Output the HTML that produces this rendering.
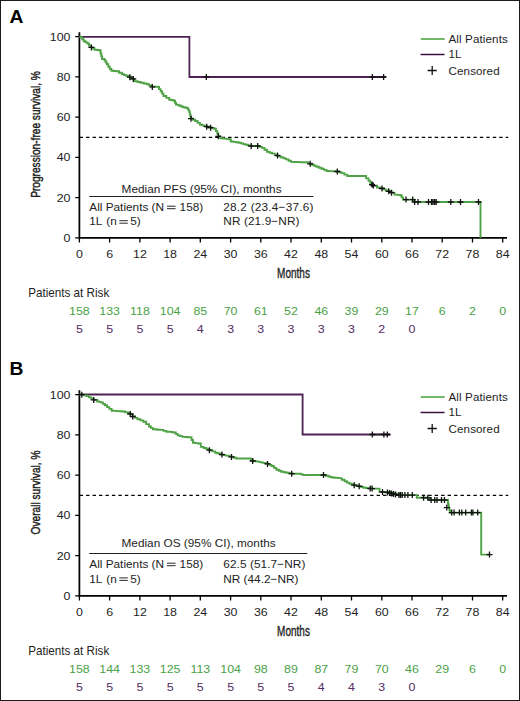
<!DOCTYPE html>
<html><head><meta charset="utf-8"><style>
html,body{margin:0;padding:0;background:#fff;}
body{width:520px;height:701px;overflow:hidden;}
svg{display:block;font-family:"Liberation Sans", sans-serif;}
</style></head><body>
<svg width="520" height="701" viewBox="0 0 520 701">
<rect x="0" y="0" width="520" height="701" fill="#fff"/>
<text x="0" y="0" font-size="18.2" font-weight="bold" fill="#000" transform="translate(9.6 22.5) scale(1.06 1)">A</text>
<path d="M79.4,32.2 V238.6 M78.6,237.8 H507" stroke="#000" stroke-width="1.75" fill="none"/>
<path d="M75.2,237.8 H79.4 M75.2,197.6 H79.4 M75.2,157.4 H79.4 M75.2,117.1 H79.4 M75.2,76.9 H79.4 M75.2,36.7 H79.4 M79.4,237.8 V242.4 M109.6,237.8 V242.4 M139.9,237.8 V242.4 M170.1,237.8 V242.4 M200.3,237.8 V242.4 M230.6,237.8 V242.4 M260.8,237.8 V242.4 M291.0,237.8 V242.4 M321.3,237.8 V242.4 M351.5,237.8 V242.4 M381.8,237.8 V242.4 M412.0,237.8 V242.4 M442.2,237.8 V242.4 M472.5,237.8 V242.4 M502.7,237.8 V242.4 " stroke="#000" stroke-width="1.3" fill="none"/>
<text text-anchor="end" font-size="11.60" fill="#1e1e1e" transform="translate(70.5 241.8) scale(1.070 1)">0</text>
<text text-anchor="end" font-size="11.60" fill="#1e1e1e" transform="translate(70.5 201.6) scale(1.070 1)">20</text>
<text text-anchor="end" font-size="11.60" fill="#1e1e1e" transform="translate(70.5 161.4) scale(1.070 1)">40</text>
<text text-anchor="end" font-size="11.60" fill="#1e1e1e" transform="translate(70.5 121.1) scale(1.070 1)">60</text>
<text text-anchor="end" font-size="11.60" fill="#1e1e1e" transform="translate(70.5 80.9) scale(1.070 1)">80</text>
<text text-anchor="end" font-size="11.60" fill="#1e1e1e" transform="translate(70.5 40.7) scale(1.070 1)">100</text>
<text text-anchor="middle" font-size="11.60" fill="#1e1e1e" transform="translate(79.4 257.6) scale(1.070 1)">0</text>
<text text-anchor="middle" font-size="11.60" fill="#1e1e1e" transform="translate(109.6 257.6) scale(1.070 1)">6</text>
<text text-anchor="middle" font-size="11.60" fill="#1e1e1e" transform="translate(139.9 257.6) scale(1.070 1)">12</text>
<text text-anchor="middle" font-size="11.60" fill="#1e1e1e" transform="translate(170.1 257.6) scale(1.070 1)">18</text>
<text text-anchor="middle" font-size="11.60" fill="#1e1e1e" transform="translate(200.3 257.6) scale(1.070 1)">24</text>
<text text-anchor="middle" font-size="11.60" fill="#1e1e1e" transform="translate(230.6 257.6) scale(1.070 1)">30</text>
<text text-anchor="middle" font-size="11.60" fill="#1e1e1e" transform="translate(260.8 257.6) scale(1.070 1)">36</text>
<text text-anchor="middle" font-size="11.60" fill="#1e1e1e" transform="translate(291.0 257.6) scale(1.070 1)">42</text>
<text text-anchor="middle" font-size="11.60" fill="#1e1e1e" transform="translate(321.3 257.6) scale(1.070 1)">48</text>
<text text-anchor="middle" font-size="11.60" fill="#1e1e1e" transform="translate(351.5 257.6) scale(1.070 1)">54</text>
<text text-anchor="middle" font-size="11.60" fill="#1e1e1e" transform="translate(381.8 257.6) scale(1.070 1)">60</text>
<text text-anchor="middle" font-size="11.60" fill="#1e1e1e" transform="translate(412.0 257.6) scale(1.070 1)">66</text>
<text text-anchor="middle" font-size="11.60" fill="#1e1e1e" transform="translate(442.2 257.6) scale(1.070 1)">72</text>
<text text-anchor="middle" font-size="11.60" fill="#1e1e1e" transform="translate(472.5 257.6) scale(1.070 1)">78</text>
<text text-anchor="middle" font-size="11.60" fill="#1e1e1e" transform="translate(502.7 257.6) scale(1.070 1)">84</text>
<text x="293.5" y="277.8" text-anchor="middle" font-size="14.3" fill="#1e1e1e" stroke="#1e1e1e" stroke-width="0.35" transform="translate(293.5 0) scale(0.7 1) translate(-293.5 0)">Months</text>
<text x="0" y="0" text-anchor="middle" font-size="13" fill="#1e1e1e" stroke="#1e1e1e" stroke-width="0.45" transform="translate(39.7 134.5) rotate(-90) scale(0.78 1)">Progression-free survival, %</text>
<path d="M79.65,137.4 H508.2" stroke="#000" stroke-width="1.3" stroke-dasharray="3.4,3.055" fill="none"/>
<path d="M420.8,39.0 H444.7" stroke="#50a247" stroke-width="1.6"/>
<path d="M420.6,54.5 H444.6" stroke="#38143f" stroke-width="1.5"/>
<path d="M427.6,70.5 h9.2 M432.2,65.9 v9.2" stroke="#111" stroke-width="1.3"/>
<text x="448.5" y="42.5" font-size="11.6" letter-spacing="0.12" fill="#1e1e1e">All Patients</text>
<text x="448.5" y="58.0" font-size="11.6" letter-spacing="0.12" fill="#1e1e1e">1L</text>
<text x="448.5" y="74.9" font-size="11.6" letter-spacing="0.12" fill="#1e1e1e">Censored</text>
<text x="201.6" y="192.6" text-anchor="middle" font-size="11.8" fill="#1e1e1e">Median PFS (95% CI), months</text>
<path d="M89.2,196.5 H313.5" stroke="#222" stroke-width="1.1"/>
<text x="89.3" y="210.8" font-size="11.8" fill="#1e1e1e">All Patients (N</text>
<text x="179.6" y="210.8" font-size="11.8" fill="#1e1e1e">158)</text>
<path d="M167.0,206.2 H175.6 M167.0,208.7 H175.6" stroke="#1e1e1e" stroke-width="0.95"/>
<text x="89.3" y="225.3" font-size="11.8" fill="#1e1e1e">1L <tspan dx="1">(n</tspan></text>
<text x="130.3" y="225.3" font-size="11.8" fill="#1e1e1e">5)</text>
<path d="M119.3,220.7 H127.8 M119.3,223.2 H127.8" stroke="#1e1e1e" stroke-width="0.95"/>
<text x="223.3" y="210.8" font-size="11.8" letter-spacing="0.22" fill="#1e1e1e">28.2 (23.4−37.6)</text>
<text x="223.3" y="225.3" font-size="11.8" letter-spacing="0.10" fill="#1e1e1e">NR (21.9−NR)</text>
<text font-size="12.1" fill="#1e1e1e" transform="translate(28.2 296.6) scale(0.965 1)">Patients at Risk</text>
<text text-anchor="middle" font-size="11.60" fill="#4aa247" transform="translate(79.4 314.8) scale(1.070 1)">158</text>
<text text-anchor="middle" font-size="11.60" fill="#4aa247" transform="translate(109.6 314.8) scale(1.070 1)">133</text>
<text text-anchor="middle" font-size="11.60" fill="#4aa247" transform="translate(139.9 314.8) scale(1.070 1)">118</text>
<text text-anchor="middle" font-size="11.60" fill="#4aa247" transform="translate(170.1 314.8) scale(1.070 1)">104</text>
<text text-anchor="middle" font-size="11.60" fill="#4aa247" transform="translate(200.3 314.8) scale(1.070 1)">85</text>
<text text-anchor="middle" font-size="11.60" fill="#4aa247" transform="translate(230.6 314.8) scale(1.070 1)">70</text>
<text text-anchor="middle" font-size="11.60" fill="#4aa247" transform="translate(260.8 314.8) scale(1.070 1)">61</text>
<text text-anchor="middle" font-size="11.60" fill="#4aa247" transform="translate(291.0 314.8) scale(1.070 1)">52</text>
<text text-anchor="middle" font-size="11.60" fill="#4aa247" transform="translate(321.3 314.8) scale(1.070 1)">46</text>
<text text-anchor="middle" font-size="11.60" fill="#4aa247" transform="translate(351.5 314.8) scale(1.070 1)">39</text>
<text text-anchor="middle" font-size="11.60" fill="#4aa247" transform="translate(381.8 314.8) scale(1.070 1)">29</text>
<text text-anchor="middle" font-size="11.60" fill="#4aa247" transform="translate(412.0 314.8) scale(1.070 1)">17</text>
<text text-anchor="middle" font-size="11.60" fill="#4aa247" transform="translate(442.2 314.8) scale(1.070 1)">6</text>
<text text-anchor="middle" font-size="11.60" fill="#4aa247" transform="translate(472.5 314.8) scale(1.070 1)">2</text>
<text text-anchor="middle" font-size="11.60" fill="#4aa247" transform="translate(502.7 314.8) scale(1.070 1)">0</text>
<text text-anchor="middle" font-size="11.60" fill="#522c62" transform="translate(79.4 333.1) scale(1.070 1)">5</text>
<text text-anchor="middle" font-size="11.60" fill="#522c62" transform="translate(109.6 333.1) scale(1.070 1)">5</text>
<text text-anchor="middle" font-size="11.60" fill="#522c62" transform="translate(139.9 333.1) scale(1.070 1)">5</text>
<text text-anchor="middle" font-size="11.60" fill="#522c62" transform="translate(170.1 333.1) scale(1.070 1)">5</text>
<text text-anchor="middle" font-size="11.60" fill="#522c62" transform="translate(200.3 333.1) scale(1.070 1)">4</text>
<text text-anchor="middle" font-size="11.60" fill="#522c62" transform="translate(230.6 333.1) scale(1.070 1)">3</text>
<text text-anchor="middle" font-size="11.60" fill="#522c62" transform="translate(260.8 333.1) scale(1.070 1)">3</text>
<text text-anchor="middle" font-size="11.60" fill="#522c62" transform="translate(291.0 333.1) scale(1.070 1)">3</text>
<text text-anchor="middle" font-size="11.60" fill="#522c62" transform="translate(321.3 333.1) scale(1.070 1)">3</text>
<text text-anchor="middle" font-size="11.60" fill="#522c62" transform="translate(351.5 333.1) scale(1.070 1)">3</text>
<text text-anchor="middle" font-size="11.60" fill="#522c62" transform="translate(381.8 333.1) scale(1.070 1)">2</text>
<text text-anchor="middle" font-size="11.60" fill="#522c62" transform="translate(412.0 333.1) scale(1.070 1)">0</text>
<text x="0" y="0" font-size="18.2" font-weight="bold" fill="#000" transform="translate(9.6 374.8) scale(1.06 1)">B</text>
<path d="M79.4,390.2 V596.6 M78.6,595.8 H507" stroke="#000" stroke-width="1.75" fill="none"/>
<path d="M75.2,595.8 H79.4 M75.2,555.6 H79.4 M75.2,515.4 H79.4 M75.2,475.1 H79.4 M75.2,434.9 H79.4 M75.2,394.7 H79.4 M79.4,595.8 V600.4 M109.6,595.8 V600.4 M139.9,595.8 V600.4 M170.1,595.8 V600.4 M200.3,595.8 V600.4 M230.6,595.8 V600.4 M260.8,595.8 V600.4 M291.0,595.8 V600.4 M321.3,595.8 V600.4 M351.5,595.8 V600.4 M381.8,595.8 V600.4 M412.0,595.8 V600.4 M442.2,595.8 V600.4 M472.5,595.8 V600.4 M502.7,595.8 V600.4 " stroke="#000" stroke-width="1.3" fill="none"/>
<text text-anchor="end" font-size="11.60" fill="#1e1e1e" transform="translate(70.5 599.8) scale(1.070 1)">0</text>
<text text-anchor="end" font-size="11.60" fill="#1e1e1e" transform="translate(70.5 559.6) scale(1.070 1)">20</text>
<text text-anchor="end" font-size="11.60" fill="#1e1e1e" transform="translate(70.5 519.4) scale(1.070 1)">40</text>
<text text-anchor="end" font-size="11.60" fill="#1e1e1e" transform="translate(70.5 479.1) scale(1.070 1)">60</text>
<text text-anchor="end" font-size="11.60" fill="#1e1e1e" transform="translate(70.5 438.9) scale(1.070 1)">80</text>
<text text-anchor="end" font-size="11.60" fill="#1e1e1e" transform="translate(70.5 398.7) scale(1.070 1)">100</text>
<text text-anchor="middle" font-size="11.60" fill="#1e1e1e" transform="translate(79.4 615.6) scale(1.070 1)">0</text>
<text text-anchor="middle" font-size="11.60" fill="#1e1e1e" transform="translate(109.6 615.6) scale(1.070 1)">6</text>
<text text-anchor="middle" font-size="11.60" fill="#1e1e1e" transform="translate(139.9 615.6) scale(1.070 1)">12</text>
<text text-anchor="middle" font-size="11.60" fill="#1e1e1e" transform="translate(170.1 615.6) scale(1.070 1)">18</text>
<text text-anchor="middle" font-size="11.60" fill="#1e1e1e" transform="translate(200.3 615.6) scale(1.070 1)">24</text>
<text text-anchor="middle" font-size="11.60" fill="#1e1e1e" transform="translate(230.6 615.6) scale(1.070 1)">30</text>
<text text-anchor="middle" font-size="11.60" fill="#1e1e1e" transform="translate(260.8 615.6) scale(1.070 1)">36</text>
<text text-anchor="middle" font-size="11.60" fill="#1e1e1e" transform="translate(291.0 615.6) scale(1.070 1)">42</text>
<text text-anchor="middle" font-size="11.60" fill="#1e1e1e" transform="translate(321.3 615.6) scale(1.070 1)">48</text>
<text text-anchor="middle" font-size="11.60" fill="#1e1e1e" transform="translate(351.5 615.6) scale(1.070 1)">54</text>
<text text-anchor="middle" font-size="11.60" fill="#1e1e1e" transform="translate(381.8 615.6) scale(1.070 1)">60</text>
<text text-anchor="middle" font-size="11.60" fill="#1e1e1e" transform="translate(412.0 615.6) scale(1.070 1)">66</text>
<text text-anchor="middle" font-size="11.60" fill="#1e1e1e" transform="translate(442.2 615.6) scale(1.070 1)">72</text>
<text text-anchor="middle" font-size="11.60" fill="#1e1e1e" transform="translate(472.5 615.6) scale(1.070 1)">78</text>
<text text-anchor="middle" font-size="11.60" fill="#1e1e1e" transform="translate(502.7 615.6) scale(1.070 1)">84</text>
<text x="293.5" y="635.8" text-anchor="middle" font-size="14.3" fill="#1e1e1e" stroke="#1e1e1e" stroke-width="0.35" transform="translate(293.5 0) scale(0.7 1) translate(-293.5 0)">Months</text>
<text x="0" y="0" text-anchor="middle" font-size="13" fill="#1e1e1e" stroke="#1e1e1e" stroke-width="0.45" transform="translate(39.7 492.5) rotate(-90) scale(0.78 1)">Overall survival, %</text>
<path d="M79.65,495.4 H508.2" stroke="#000" stroke-width="1.3" stroke-dasharray="3.4,3.055" fill="none"/>
<path d="M420.8,397.0 H444.7" stroke="#50a247" stroke-width="1.6"/>
<path d="M420.6,412.5 H444.6" stroke="#38143f" stroke-width="1.5"/>
<path d="M427.6,428.5 h9.2 M432.2,423.9 v9.2" stroke="#111" stroke-width="1.3"/>
<text x="448.5" y="400.5" font-size="11.6" letter-spacing="0.12" fill="#1e1e1e">All Patients</text>
<text x="448.5" y="416.0" font-size="11.6" letter-spacing="0.12" fill="#1e1e1e">1L</text>
<text x="448.5" y="432.9" font-size="11.6" letter-spacing="0.12" fill="#1e1e1e">Censored</text>
<text x="198.6" y="547.3" text-anchor="middle" font-size="11.8" fill="#1e1e1e">Median OS (95% CI), months</text>
<path d="M89.2,553.5 H307.3" stroke="#222" stroke-width="1.1"/>
<text x="89.3" y="567.8" font-size="11.8" fill="#1e1e1e">All Patients (N</text>
<text x="179.6" y="567.8" font-size="11.8" fill="#1e1e1e">158)</text>
<path d="M167.0,563.2 H175.6 M167.0,565.7 H175.6" stroke="#1e1e1e" stroke-width="0.95"/>
<text x="89.3" y="582.5" font-size="11.8" fill="#1e1e1e">1L <tspan dx="1">(n</tspan></text>
<text x="130.3" y="582.5" font-size="11.8" fill="#1e1e1e">5)</text>
<path d="M119.3,577.9 H127.8 M119.3,580.4 H127.8" stroke="#1e1e1e" stroke-width="0.95"/>
<text x="223.3" y="567.8" font-size="11.8" letter-spacing="0.08" fill="#1e1e1e">62.5 (51.7−NR)</text>
<text x="223.3" y="582.5" font-size="11.8" letter-spacing="0.00" fill="#1e1e1e">NR (44.2−NR)</text>
<text font-size="12.1" fill="#1e1e1e" transform="translate(28.2 654.6) scale(0.965 1)">Patients at Risk</text>
<text text-anchor="middle" font-size="11.60" fill="#4aa247" transform="translate(79.4 672.8) scale(1.070 1)">158</text>
<text text-anchor="middle" font-size="11.60" fill="#4aa247" transform="translate(109.6 672.8) scale(1.070 1)">144</text>
<text text-anchor="middle" font-size="11.60" fill="#4aa247" transform="translate(139.9 672.8) scale(1.070 1)">133</text>
<text text-anchor="middle" font-size="11.60" fill="#4aa247" transform="translate(170.1 672.8) scale(1.070 1)">125</text>
<text text-anchor="middle" font-size="11.60" fill="#4aa247" transform="translate(200.3 672.8) scale(1.070 1)">113</text>
<text text-anchor="middle" font-size="11.60" fill="#4aa247" transform="translate(230.6 672.8) scale(1.070 1)">104</text>
<text text-anchor="middle" font-size="11.60" fill="#4aa247" transform="translate(260.8 672.8) scale(1.070 1)">98</text>
<text text-anchor="middle" font-size="11.60" fill="#4aa247" transform="translate(291.0 672.8) scale(1.070 1)">89</text>
<text text-anchor="middle" font-size="11.60" fill="#4aa247" transform="translate(321.3 672.8) scale(1.070 1)">87</text>
<text text-anchor="middle" font-size="11.60" fill="#4aa247" transform="translate(351.5 672.8) scale(1.070 1)">79</text>
<text text-anchor="middle" font-size="11.60" fill="#4aa247" transform="translate(381.8 672.8) scale(1.070 1)">70</text>
<text text-anchor="middle" font-size="11.60" fill="#4aa247" transform="translate(412.0 672.8) scale(1.070 1)">46</text>
<text text-anchor="middle" font-size="11.60" fill="#4aa247" transform="translate(442.2 672.8) scale(1.070 1)">29</text>
<text text-anchor="middle" font-size="11.60" fill="#4aa247" transform="translate(472.5 672.8) scale(1.070 1)">6</text>
<text text-anchor="middle" font-size="11.60" fill="#4aa247" transform="translate(502.7 672.8) scale(1.070 1)">0</text>
<text text-anchor="middle" font-size="11.60" fill="#522c62" transform="translate(79.4 691.1) scale(1.070 1)">5</text>
<text text-anchor="middle" font-size="11.60" fill="#522c62" transform="translate(109.6 691.1) scale(1.070 1)">5</text>
<text text-anchor="middle" font-size="11.60" fill="#522c62" transform="translate(139.9 691.1) scale(1.070 1)">5</text>
<text text-anchor="middle" font-size="11.60" fill="#522c62" transform="translate(170.1 691.1) scale(1.070 1)">5</text>
<text text-anchor="middle" font-size="11.60" fill="#522c62" transform="translate(200.3 691.1) scale(1.070 1)">5</text>
<text text-anchor="middle" font-size="11.60" fill="#522c62" transform="translate(230.6 691.1) scale(1.070 1)">5</text>
<text text-anchor="middle" font-size="11.60" fill="#522c62" transform="translate(260.8 691.1) scale(1.070 1)">5</text>
<text text-anchor="middle" font-size="11.60" fill="#522c62" transform="translate(291.0 691.1) scale(1.070 1)">5</text>
<text text-anchor="middle" font-size="11.60" fill="#522c62" transform="translate(321.3 691.1) scale(1.070 1)">4</text>
<text text-anchor="middle" font-size="11.60" fill="#522c62" transform="translate(351.5 691.1) scale(1.070 1)">4</text>
<text text-anchor="middle" font-size="11.60" fill="#522c62" transform="translate(381.8 691.1) scale(1.070 1)">3</text>
<text text-anchor="middle" font-size="11.60" fill="#522c62" transform="translate(412.0 691.1) scale(1.070 1)">0</text>
<path d="M79.4,36.8 H189.4 V77.0 H386" stroke="#4c2352" stroke-width="1.8" fill="none" stroke-linejoin="miter"/>
<path d="M79.4,394.5 H302.6 V434.5 H390.3" stroke="#4c2352" stroke-width="1.8" fill="none" stroke-linejoin="miter"/>
<path d="M372,77 H386 M372,434.5 H390.3" stroke="#2a1a2a" stroke-width="1.6" fill="none"/>
<path d="M79.4,36.7 H80.6 V37.4 H82.2 V39.3 H83.7 V41.2 H85.6 V42.4 H87.5 V43.5 H89.0 V45.5 H90.6 V47.4 H92.5 V48.5 H94.5 V49.7 H96.8 V50.0 H99.0 V50.2 H100.6 V53.5 H101.3 V56.2 H102.0 V59.0 H104.5 V60.5 H105.7 V62.4 H106.8 V64.3 H108.3 V66.7 H109.8 V69.0 H111.4 V70.8 H113.7 V71.0 H116.0 V71.2 H119.0 V72.8 H122.0 V74.3 H124.1 V75.1 H126.2 V75.8 H128.3 V76.6 H131.4 V78.9 H134.5 V81.2 H137.6 V82.0 H140.6 V82.8 H143.7 V83.5 H146.8 V84.3 H149.1 V85.4 H151.4 V86.6 H153.5 V86.7 H155.6 V86.8 H157.7 V86.9 H159.1 V89.1 H160.6 V91.2 H162.1 V93.6 H163.5 V96.0 H166.3 V97.9 H169.2 V99.8 H171.6 V100.3 H174.0 V100.8 H175.0 V102.7 H176.0 V104.6 H178.4 V105.5 H180.8 V106.5 H183.0 V107.2 H185.3 V107.8 H187.5 V108.5 H188.4 V110.4 H189.4 V112.3 H189.9 V114.4 H190.5 V116.6 H191.0 V118.7 H193.1 V119.8 H195.2 V121.0 H197.6 V122.9 H200.0 V124.8 H202.2 V125.4 H204.5 V126.1 H206.7 V126.7 H208.6 V127.2 H210.6 V127.7 H212.5 V128.2 H214.4 V128.7 H215.9 V131.1 H217.3 V133.5 H218.3 V136.3 H220.2 V138.3 H223.1 V138.6 H225.9 V138.9 H228.8 V139.2 H230.8 V141.5 H233.4 V141.9 H235.9 V142.3 H238.5 V142.7 H240.9 V143.4 H243.2 V144.1 H245.6 V144.7 H248.0 V145.4 H251.2 V146.0 L257.7,146.0 H259.9 V146.9 H262.0 V147.9 H264.5 V149.8 H267.0 V151.7 H269.6 V152.7 H272.2 V153.6 H274.9 V154.6 H277.5 V155.6 H279.4 V156.6 H281.3 V157.5 H283.6 V158.4 H286.0 V159.4 H288.5 V160.7 H291.0 V161.9 H293.4 V162.0 H295.8 V162.0 H298.2 V162.1 H300.6 V162.2 H303.0 V162.2 H305.4 V162.3 H307.8 V163.1 H310.2 V163.8 H312.1 V164.8 H314.0 V165.8 H316.4 V166.8 H318.8 V167.7 H321.4 V168.8 H323.9 V169.9 H326.5 V171.0 H329.2 V171.1 H331.9 V171.2 H334.6 V171.4 H337.3 V171.5 H339.4 V172.3 H341.5 V173.1 H344.4 V174.6 H347.3 V176.0 L363.7,176.0 H366.1 V178.4 H368.5 V180.8 H370.2 V182.7 H372.0 V184.6 H373.3 V185.6 H377.0 V187.5 H379.5 V188.0 H382.0 V188.5 H383.9 V189.4 H385.8 V190.4 H388.7 V191.3 H391.5 V192.7 H394.4 V194.6 H397.3 V194.9 H400.2 V195.2 H401.6 V197.4 H403.0 V199.6 L412.7,199.6 H414.6 V202.0 L480.5,202.0 L480.5,237.8" stroke="#50a247" stroke-width="1.9" fill="none"/>
<path d="M79.4,394.5 H81.8 V394.7 H84.2 V395.4 H86.6 V396.1 H89.0 V397.4 H91.3 V398.6 H93.7 V399.9 H97.2 V401.5 H99.1 V401.9 H101.0 V402.4 H102.9 V403.9 H104.8 V405.3 H107.1 V407.1 H109.3 V408.9 H111.6 V410.7 H114.2 V410.9 H116.9 V411.1 H119.5 V411.3 H122.2 V411.5 H125.1 V412.2 H127.9 V413.0 H130.2 V414.0 H132.7 V416.5 H135.1 V417.9 H137.5 V419.2 H140.4 V420.4 H143.3 V421.7 H146.2 V424.1 H149.0 V426.5 H150.9 V427.9 H152.9 V429.3 H155.5 V429.5 H158.0 V429.7 H160.6 V429.9 H163.5 V430.9 H166.4 V431.8 H170.0 V431.9 H171.9 V432.2 H173.8 V432.5 H175.8 V433.9 H177.7 V435.4 H180.1 V436.1 H182.5 V436.9 H185.1 V437.0 H187.6 V437.2 H190.2 V437.3 H191.6 V440.0 H193.0 V442.7 H195.4 V443.1 H197.9 V443.5 H200.8 V446.9 H203.7 V448.0 H206.5 V449.1 H209.4 V450.2 H212.3 V451.4 H215.2 V452.7 H217.4 V453.3 H219.7 V454.0 H221.9 V454.6 H223.9 V455.1 H225.8 V455.6 H228.7 V456.2 H231.5 V456.9 H233.9 V457.7 H236.3 V458.5 L248.8,458.5 H250.8 V459.8 H252.7 V461.0 H255.6 V461.4 H258.5 V461.9 H260.8 V462.4 H263.0 V462.9 H265.2 V463.4 H267.5 V463.9 H269.5 V464.9 H271.5 V466.0 H273.9 V467.9 H276.3 V469.8 H278.8 V470.8 H281.2 V471.7 H283.8 V472.2 H286.4 V472.7 H289.1 V473.2 H291.7 V473.7 L298.5,473.7 H300.9 V474.4 H303.3 V475.0 L323.5,475.0 H325.9 V475.8 H328.3 V476.5 H330.2 V477.0 H332.1 V477.5 H334.3 V477.7 H336.6 V477.9 H338.8 V478.1 H341.7 V479.7 H344.6 V481.3 H347.0 V482.6 H349.4 V483.8 H351.8 V484.5 H354.2 V485.2 H356.7 V485.8 H359.2 V486.3 H361.4 V487.0 H363.5 V487.7 H366.4 V488.0 H369.2 V488.3 H372.1 V488.6 L378.3,488.6 H379.5 V491.9 L388.0,491.9 H390.8 V492.7 H393.5 V493.5 H396.2 V494.3 H399.0 V495.1 L416.5,495.1 H416.8 V497.7 L427.8,497.7 H429.5 V500.0 L446.8,500.0 H448.0 V503.0 H448.4 V505.3 H448.8 V507.6 H449.4 V510.1 H450.0 V512.6 L481.2,512.6 L481.2,554.6 L490.0,554.6" stroke="#50a247" stroke-width="1.9" fill="none"/>
<path d="M88.4,47.4 h6.0 M91.4,44.4 v6.0 M126.8,77.2 h6.0 M129.8,74.2 v6.0 M130.3,78.9 h6.0 M133.3,75.9 v6.0 M149.3,86.9 h6.0 M152.3,83.9 v6.0 M188.0,118.7 h6.0 M191.0,115.7 v6.0 M203.7,126.7 h6.0 M206.7,123.7 v6.0 M207.6,127.7 h6.0 M210.6,124.7 v6.0 M215.3,136.3 h6.0 M218.3,133.3 v6.0 M248.2,146.0 h6.0 M251.2,143.0 v6.0 M254.7,146.0 h6.0 M257.7,143.0 v6.0 M274.5,155.6 h6.0 M277.5,152.6 v6.0 M307.2,163.8 h6.0 M310.2,160.8 v6.0 M334.3,171.5 h6.0 M337.3,168.5 v6.0 M369.0,184.6 h6.0 M372.0,181.6 v6.0 M370.3,185.6 h6.0 M373.3,182.6 v6.0 M379.0,188.5 h6.0 M382.0,185.5 v6.0 M385.7,191.3 h6.0 M388.7,188.3 v6.0 M388.5,192.7 h6.0 M391.5,189.7 v6.0 M403.0,199.6 h6.0 M406.0,196.6 v6.0 M409.7,199.6 h6.0 M412.7,196.6 v6.0 M411.6,202.0 h6.0 M414.6,199.0 v6.0 M415.0,202.0 h6.0 M418.0,199.0 v6.0 M425.5,202.0 h6.0 M428.5,199.0 v6.0 M428.5,202.0 h6.0 M431.5,199.0 v6.0 M430.0,202.0 h6.0 M433.0,199.0 v6.0 M431.6,202.0 h6.0 M434.6,199.0 v6.0 M433.2,202.0 h6.0 M436.2,199.0 v6.0 M447.8,202.0 h6.0 M450.8,199.0 v6.0 M457.5,202.0 h6.0 M460.5,199.0 v6.0 M475.5,202.0 h6.0 M478.5,199.0 v6.0 M203.3,76.9 h6.0 M206.3,73.9 v6.0 M369.3,76.9 h6.0 M372.3,73.9 v6.0 M380.6,76.9 h6.0 M383.6,73.9 v6.0 M78.8,394.7 h6.0 M81.8,391.7 v6.0 M90.7,399.9 h6.0 M93.7,396.9 v6.0 M127.2,414.0 h6.0 M130.2,411.0 v6.0 M129.7,416.5 h6.0 M132.7,413.5 v6.0 M206.4,450.2 h6.0 M209.4,447.2 v6.0 M218.9,454.6 h6.0 M221.9,451.6 v6.0 M228.5,456.9 h6.0 M231.5,453.9 v6.0 M249.7,461.0 h6.0 M252.7,458.0 v6.0 M264.5,463.9 h6.0 M267.5,460.9 v6.0 M288.7,473.7 h6.0 M291.7,470.7 v6.0 M320.5,475.0 h6.0 M323.5,472.0 v6.0 M351.2,485.2 h6.0 M354.2,482.2 v6.0 M356.2,486.3 h6.0 M359.2,483.3 v6.0 M367.2,488.6 h6.0 M370.2,485.6 v6.0 M369.1,488.6 h6.0 M372.1,485.6 v6.0 M379.5,492.0 h6.0 M382.5,489.0 v6.0 M384.5,492.5 h6.0 M387.5,489.5 v6.0 M386.6,493.0 h6.0 M389.6,490.0 v6.0 M388.5,493.5 h6.0 M391.5,490.5 v6.0 M390.5,494.0 h6.0 M393.5,491.0 v6.0 M392.5,494.5 h6.0 M395.5,491.5 v6.0 M395.9,495.1 h6.0 M398.9,492.1 v6.0 M397.5,495.1 h6.0 M400.5,492.1 v6.0 M399.2,495.1 h6.0 M402.2,492.1 v6.0 M401.9,495.1 h6.0 M404.9,492.1 v6.0 M404.9,495.1 h6.0 M407.9,492.1 v6.0 M409.3,495.1 h6.0 M412.3,492.1 v6.0 M420.6,497.7 h6.0 M423.6,494.7 v6.0 M424.8,497.8 h6.0 M427.8,494.8 v6.0 M428.1,500.0 h6.0 M431.1,497.0 v6.0 M431.7,500.0 h6.0 M434.7,497.0 v6.0 M434.0,500.0 h6.0 M437.0,497.0 v6.0 M438.5,500.0 h6.0 M441.5,497.0 v6.0 M441.5,500.0 h6.0 M444.5,497.0 v6.0 M443.8,507.6 h6.0 M446.8,504.6 v6.0 M448.7,512.6 h6.0 M451.7,509.6 v6.0 M451.1,512.6 h6.0 M454.1,509.6 v6.0 M456.4,512.6 h6.0 M459.4,509.6 v6.0 M458.8,512.6 h6.0 M461.8,509.6 v6.0 M462.7,512.6 h6.0 M465.7,509.6 v6.0 M468.4,512.6 h6.0 M471.4,509.6 v6.0 M469.9,512.6 h6.0 M472.9,509.6 v6.0 M474.7,512.6 h6.0 M477.7,509.6 v6.0 M486.5,554.6 h6.0 M489.5,551.6 v6.0 M369.3,434.5 h6.0 M372.3,431.5 v6.0 M380.9,434.5 h6.0 M383.9,431.5 v6.0 M384.3,434.5 h6.0 M387.3,431.5 v6.0 " stroke="#111" stroke-width="1.3" fill="none"/>
<rect x="0.5" y="0.5" width="519" height="700" fill="none" stroke="#1a1a1a" stroke-width="1"/>
</svg>
</body></html>
